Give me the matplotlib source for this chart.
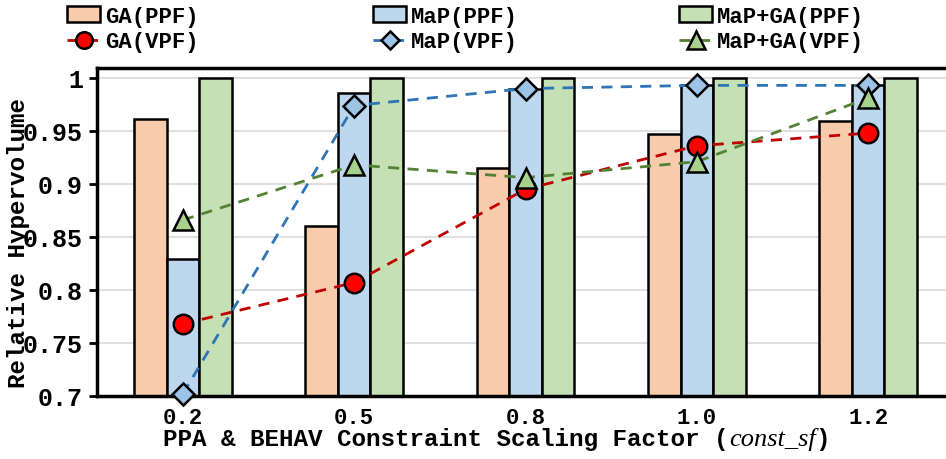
import numpy as np
import matplotlib
matplotlib.use("Agg")
import matplotlib.pyplot as plt

plt.rcParams['font.family'] = ['Liberation Mono', 'DejaVu Sans Mono']
plt.rcParams['font.weight'] = 'bold'
plt.rcParams['axes.labelweight'] = 'bold'

# data
categories = ['0.2', '0.5', '0.8', '1.0', '1.2']
ga_ppf = [0.961, 0.860, 0.915, 0.947, 0.959]
map_ppf = [0.829, 0.986, 0.990, 0.993, 0.993]
mapga_ppf = [1.0, 1.0, 1.0, 1.0, 1.0]
ga_vpf = [0.768, 0.807, 0.895, 0.936, 0.948]
map_vpf = [0.702, 0.974, 0.990, 0.993, 0.993]
mapga_vpf = [0.866, 0.918, 0.906, 0.921, 0.981]
y_ticks = [0.7, 0.75, 0.8, 0.85, 0.9, 0.95, 1.0]
y_labels = ['0.7', '0.75', '0.8', '0.85', '0.9', '0.95', '1']

fig = plt.figure(figsize=(9.46, 4.6), dpi=100)
ax = fig.add_axes([0.1025, 0.137, 0.8975, 0.713])

x = np.arange(len(categories))
w = 0.19
bar_kw = dict(width=w, edgecolor='black', linewidth=1.8, zorder=2)
b1 = ax.bar(x - w, ga_ppf, color='#F8CBAD', label='GA(PPF)', **bar_kw)
b2 = ax.bar(x, map_ppf, color='#BDD7EE', label='MaP(PPF)', **bar_kw)
b3 = ax.bar(x + w, mapga_ppf, color='#C5E0B4', label='MaP+GA(PPF)', **bar_kw)

line_kw = dict(linestyle='--', linewidth=2, markeredgecolor='black',
               markeredgewidth=1.8, zorder=4, clip_on=False, dashes=(4, 3))
l1, = ax.plot(x, ga_vpf, color='#C00000', marker='o', markerfacecolor='#FF0000',
              markersize=14, label='GA(VPF)', **line_kw)
l2, = ax.plot(x, map_vpf, color='#2E75B6', marker='D', markerfacecolor='#9DC3E6',
              markersize=11, label='MaP(VPF)', **line_kw)
l3, = ax.plot(x, mapga_vpf, color='#548235', marker='^', markerfacecolor='#A9D18E',
              markersize=15, label='MaP+GA(VPF)', **line_kw)

ax.set_xlim(-0.502, 4.455)
ax.set_ylim(0.7, 1.0094)
ax.set_yticks(y_ticks)
ax.set_yticklabels(y_labels, fontsize=18)
ax.set_xticks(x)
ax.set_xticklabels(categories, fontsize=16)
ax.tick_params(axis='y', length=6, width=2, pad=4)
ax.tick_params(axis='x', length=0, pad=8)
ax.yaxis.grid(True, color='#E0E0E0', linewidth=1.5, zorder=0)
ax.set_axisbelow(True)
for side in ['left', 'bottom', 'top']:
    ax.spines[side].set_linewidth(2.5)
ax.spines['right'].set_visible(False)

ax.set_ylabel('Relative Hypervolume', fontsize=17.5)
ax.yaxis.set_label_coords(-0.079, 0.47)

# x label: monospace part plus italic serif symbol
t1 = ax.text(0.078, -0.150, 'PPA & BEHAV Constraint Scaling Factor (',
             transform=ax.transAxes, ha='left', va='baseline', fontsize=17.5)
t2 = ax.annotate('const_sf', xy=(1, 0), xycoords=t1, ha='left', va='bottom',
                 fontsize=19, family='Liberation Serif', style='italic',
                 weight='normal')
ax.annotate(')', xy=(1, 0), xycoords=t2, ha='left', va='bottom', fontsize=17.5)

# one legend per column, as in the reference
columns = [((b1, l1), 67), ((b2, l2), 373), ((b3, l3), 679)]
for hs, xpix in columns:
    fig.legend(list(hs), [h.get_label() for h in hs], loc='upper left',
               bbox_to_anchor=(xpix / 946, 0.985), borderaxespad=0,
               borderpad=0, frameon=False, fontsize=16, handlelength=1.5,
               handletextpad=0.2, labelspacing=0.2, markerscale=0.85)

fig.savefig('out.png', dpi=100)
